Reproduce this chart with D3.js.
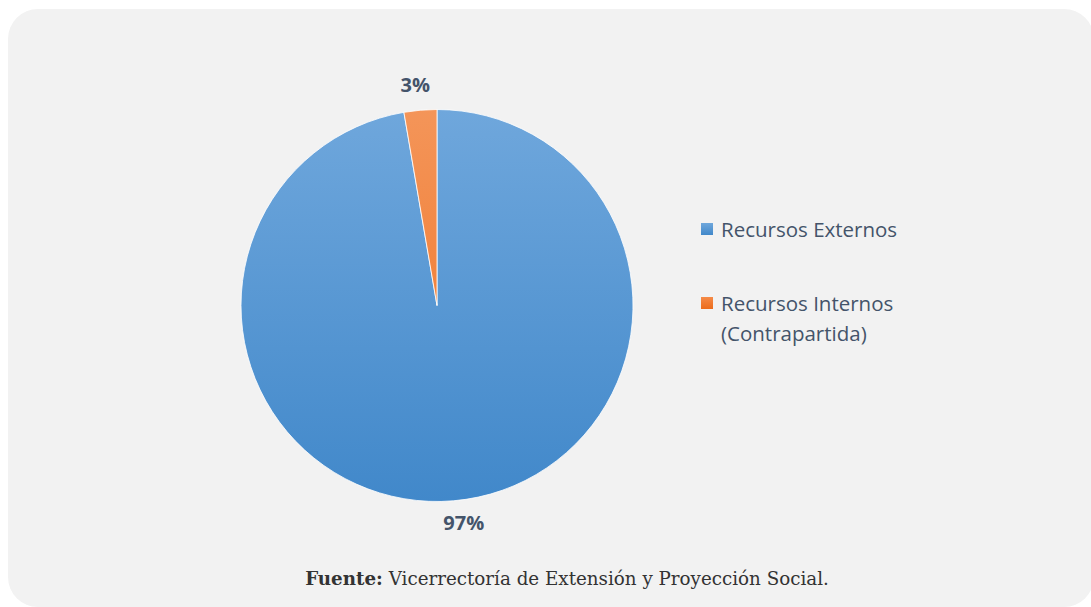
<!DOCTYPE html>
<html lang="es">
<head>
<meta charset="UTF-8">
<title>Recursos</title>
<script src="https://d3js.org/d3.v7.min.js"></script>
<style>
  body { margin: 0; background: #fff; }
  svg { display: block; }
</style>
</head>
<body>
<svg id="chart"></svg>
<script>
// slice data
var categories = ["Recursos Externos", "Recursos Internos (Contrapartida)"];
var values = [97.3, 2.7];
var legendLines = [["Recursos Externos"], ["Recursos Internos", "(Contrapartida)"]];
var sourceBold = "Fuente:";
var sourceText = " Vicerrectoría de Extensión y Proyección Social.";

var W = 1091, H = 607;
var cx = 437, cy = 305.5, r = 196;

var svg = d3.select("#chart").attr("width", W).attr("height", H);

// panel background
svg.append("rect")
    .attr("x", 8).attr("y", 9)
    .attr("width", 1086).attr("height", 598)
    .attr("rx", 30).attr("ry", 30)
    .attr("fill", "#f2f2f2");

var defs = svg.append("defs");
var grads = [
  {id: "gBlue", top: "#6fa7dc", bottom: "#4188ca"},
  {id: "gOrange", top: "#f49559", bottom: "#ee7020"}
];
grads.forEach(function(g) {
  var lg = defs.append("linearGradient")
      .attr("id", g.id)
      .attr("gradientUnits", "userSpaceOnUse")
      .attr("x1", 0).attr("y1", cy - r).attr("x2", 0).attr("y2", cy + r);
  lg.append("stop").attr("offset", "0%").attr("stop-color", g.top);
  lg.append("stop").attr("offset", "100%").attr("stop-color", g.bottom);
});

var color = d3.scaleOrdinal().domain(categories).range(["url(#gBlue)", "url(#gOrange)"]);
var swatch = d3.scaleOrdinal().domain(categories).range(["url(#sBlue)", "url(#sOrange)"]);

var pie = d3.pie().sort(null).value(function(d) { return d.v; });
var data = categories.map(function(c, i) { return {name: c, v: values[i]}; });
var arcs = pie(data);

var g = svg.append("g");

g.selectAll("path.slice")
    .data(arcs)
  .enter().append("path")
    .attr("class", "slice")
    .attr("d", function(d) {
      // draw in page coordinates so the gradient spans top to bottom
      var p = d3.path();
      var a0 = d.startAngle - Math.PI / 2, a1 = d.endAngle - Math.PI / 2;
      p.moveTo(cx, cy);
      p.lineTo(cx + r * Math.cos(a0), cy + r * Math.sin(a0));
      p.arc(cx, cy, r, a0, a1);
      p.closePath();
      return p.toString();
    })
    .attr("fill", function(d) { return color(d.data.name); })
    .attr("stroke", "#ffffff")
    .attr("stroke-width", 0.8);

// labels outside the slices (nudged like Excel's best fit)
var labelArc = d3.arc().innerRadius(r + 26).outerRadius(r + 26);
var nudge = [[8, -4], [-3, 1]];
var total = d3.sum(values);
g.selectAll("text.pct")
    .data(arcs)
  .enter().append("text")
    .attr("class", "pct")
    .attr("transform", function(d, i) {
      var c = labelArc.centroid(d);
      return "translate(" + (cx + c[0] + nudge[i][0]) + "," + (cy + c[1] + nudge[i][1]) + ")";
    })
    .attr("dy", "0.35em")
    .attr("text-anchor", "middle")
    .attr("font-family", "'Open Sans', sans-serif")
    .attr("font-weight", "bold")
    .attr("font-size", "20px")
    .attr("fill", "#44546a")
    .text(function(d) { return Math.round(d.data.v / total * 100) + "%"; });

// legend swatch gradients
[["sBlue", "#6fa7dc", "#4188ca"], ["sOrange", "#f58a48", "#ec6c1c"]].forEach(function(s) {
  var lg = defs.append("linearGradient").attr("id", s[0])
      .attr("x1", 0).attr("y1", 0).attr("x2", 0).attr("y2", 1);
  lg.append("stop").attr("offset", "0%").attr("stop-color", s[1]);
  lg.append("stop").attr("offset", "100%").attr("stop-color", s[2]);
});

var legend = svg.append("g").attr("transform", "translate(701,223)");
var item = legend.selectAll("g.item")
    .data(categories)
  .enter().append("g")
    .attr("class", "item")
    .attr("transform", function(d, i) { return "translate(0," + (i * 74) + ")"; });
item.append("rect")
    .attr("width", 12).attr("height", 12)
    .attr("fill", function(d) { return swatch(d); });
item.each(function(d, i) {
  var t = d3.select(this).append("text")
      .attr("x", 20).attr("y", 14)
      .attr("font-family", "'Open Sans', sans-serif")
      .attr("font-size", "20.5px")
      .attr("fill", "#44546a");
  legendLines[i].forEach(function(line, j) {
    t.append("tspan").attr("x", 20).attr("dy", j === 0 ? 0 : 30).text(line);
  });
});

// source note
var src = svg.append("text")
    .attr("x", 567).attr("y", 585)
    .attr("text-anchor", "middle")
    .attr("font-family", "'DejaVu Serif', 'Liberation Serif', serif")
    .attr("font-size", "18.3px")
    .attr("fill", "#333333");
src.append("tspan").attr("font-weight", "bold").text(sourceBold);
src.append("tspan").text(sourceText);
</script>
</body>
</html>
